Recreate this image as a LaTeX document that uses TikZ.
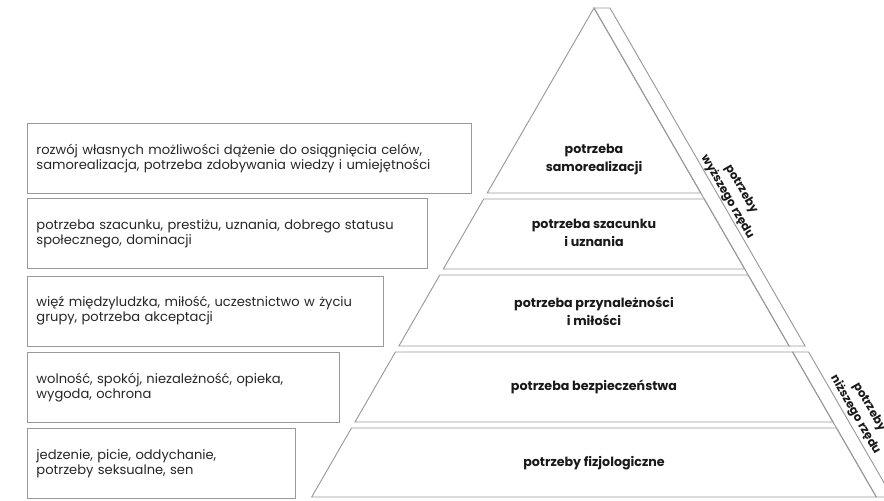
\documentclass[tikz,border=0pt]{standalone}
\usepackage{fontspec}
\setmainfont{Poppins}
\usetikzlibrary{positioning}

\begin{document}
\begin{tikzpicture}[x=0.75pt, y=-0.75pt, line width=0.7pt,
    outline/.style={draw=black!40},
    needbox/.style={outline, anchor=north west, minimum height=52.5pt, inner xsep=6.75pt, align=left, text=black!85, font=\fontsize{9.8}{11.4}\selectfont},
    levellabel/.style={align=center, text=black!90, font=\bfseries\fontsize{9.5}{13.5}\selectfont},
    sidelabel/.style={align=center, rotate=-60, text=black!90, font=\bfseries\fontsize{8.8}{12}\selectfont}]
    \useasboundingbox (0,0) rectangle (884,500);
    \clip (0,0) rectangle (884,500);

    % pyramid
    \draw[outline] (594,8) -- (700.8,193) -- (487.2,193) -- cycle;
    \draw[outline] (483.7,199) -- (704.3,199) -- (744.7,269) -- (443.3,269) -- cycle;
    \draw[outline] (439.8,275) -- (748.2,275) -- (789.1,346) -- (398.9,346) -- cycle;
    \draw[outline] (395.4,352) -- (792.6,352) -- (833.0,422) -- (355.0,422) -- cycle;
    \draw[outline] (351.5,428) -- (836.5,428) -- (876.3,497) -- (311.7,497) -- cycle;

    % bands on the right
    \draw[outline] (594,8) -- (610,8) -- (805.1,346) -- (789.1,346) -- cycle;
    \draw[outline] (792.6,352) -- (808.6,352) -- (892.3,497) -- (876.3,497) -- cycle;

    \node[levellabel] (self) at (594,159) {potrzeba\\samorealizacji};
    \node[levellabel] (esteem) at (594,233) {potrzeba szacunku\\i uznania};
    \node[levellabel] (love) at (594,311) {potrzeba przynależności\\i miłości};
    \node[levellabel] (safety) at (594,387) {potrzeba bezpieczeństwa};
    \node[levellabel] (body) at (594,463) {potrzeby fizjologiczne};

    \node[sidelabel] (higher) at (734,193) {potrzeby\\wyższego rzędu};
    \node[sidelabel] (lower) at (862,411) {potrzeby\\niższego rzędu};

    % boxes on the left
    \node[needbox, text width=319.5pt] (selfbox) at (27,123) {rozwój własnych możliwości dążenie do osiągnięcia celów,\\samorealizacja, potrzeba zdobywania wiedzy i umiejętności};
    \node[needbox, text width=286.5pt] (esteembox) at (27,198) {potrzeba szacunku, prestiżu, uznania, dobrego statusu\\społecznego, dominacji};
    \node[needbox, text width=253.5pt] (lovebox) at (27,275.5) {więź międzyludzka, miłość, uczestnictwo w życiu\\grupy, potrzeba akceptacji};
    \node[needbox, text width=220.5pt] (safetybox) at (27,352) {wolność, spokój, niezależność, opieka,\\wygoda, ochrona};
    \node[needbox, text width=187.5pt] (bodybox) at (27,428) {jedzenie, picie, oddychanie,\\potrzeby seksualne, sen};
\end{tikzpicture}
\end{document}
